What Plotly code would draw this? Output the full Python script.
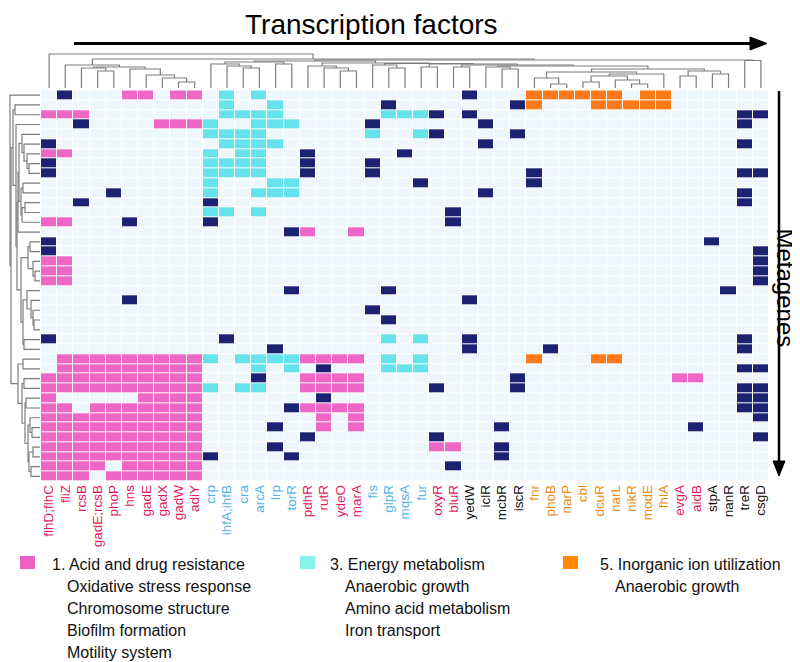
import plotly.graph_objects as go

W, H = 800, 662

# ---------------- data ----------------
tf_labels = ["flhD;flhC", "fliZ", "rcsB", "gadE;rcsB", "phoP", "hns", "gadE", "gadX", "gadW", "adiY",
             "crp", "ihfA;ihfB", "cra", "arcA", "lrp", "torR", "pdhR", "rutR", "ydeO", "marA",
             "fis", "glpR", "mqsA", "fur", "oxyR", "bluR", "yedW", "iclR", "mcbR", "iscR",
             "fnr", "phoB", "narP", "cbl", "dcuR", "narL", "nikR", "modE", "fhlA", "evgA",
             "aidB", "stpA", "nanR", "treR", "csgD"]
# functional category of each TF (1 acid/drug, 3 energy, 5 inorganic ion, 0 other)
tf_group = [1] * 10 + [3] * 6 + [1] * 4 + [3] * 4 + [1] * 2 + [0] * 4 + [5] * 9 + [1] * 2 + [0] * 4

# metagene x TF membership: . none, p cat.1, c cat.3, o cat.5, n other
metagene_rows = [
    ".n... pp.pp .c.c. ..... ..... .n... ooooo o.oo. .....",
    "..... ..... .c..c ..... .n... ....n o...o oooo. .....",
    "ppp.. ..... .cccc ..... .cccn .n... ..... ..... ...nn",
    "..n.. ..ppp c..cc c.... n.... ..n.. ..... ..... ...n.",
    "..... ..... cccc. ..... c..cn ....n ..... ..... .....",
    "n.... ..... .cccc ..... ..... ..n.. ..... ..... ...n.",
    "pp... ..... c.cc. .n... ..n.. ..... ..... ..... .....",
    "n.... ..... cccc. .n... n.... ..... ..... ..... .....",
    "n.... ..... cccc. .n... n.... ..... n.... ..... ...nn",
    "..... ..... c...c c.... ...n. ..... n.... ..... .....",
    "....n ..... c..cc c.... ..... ..n.. ..... ..... ...n.",
    "..n.. ..... n.... ..... ..... ..... ..... ..... ...n.",
    "..... ..... cc.c. ..... ..... n.... ..... ..... .....",
    "pp... n.... n.... ..... ..... n.... ..... ..... .....",
    "..... ..... ..... np..p ..... ..... ..... ..... .....",
    "n.... ..... ..... ..... ..... ..... ..... ..... .n...",
    "n.... ..... ..... ..... ..... ..... ..... ..... ....n",
    "pp... ..... ..... ..... ..... ..... ..... ..... ....n",
    "pp... ..... ..... ..... ..... ..... ..... ..... ....n",
    "pp... ..... ..... ..... ..... ..... ..... ..... ....n",
    "..... ..... ..... n.... .n... ..... ..... ..... ..n..",
    "..... n.... ..... ..... ..... .n... ..... ..... .....",
    "..... ..... ..... ..... n.... ..... ..... ..... .....",
    "..... ..... ..... ..... .n... ..... ..... ..... .....",
    "..... ..... ..... ..... ..... ..... ..... ..... .....",
    "n.... ..... .n... ..... .c.c. .n... ..... ..... ...n.",
    "..... ..... ....n ..... ..... .n... .n... ..... ...n.",
    ".pppp ppppp c.ccc cpppp .c.c. ..... o...o o.... .....",
    ".pppp ppppp ...c. c.n.. .ccc. ..... ..... ..... ...nn",
    "ppppp ppppp ...n. .pppp ..... ....n ..... ....p p....",
    "ppppp ppppp c.cc. .pppp ....n ....n ..... ..... ...nn",
    "p.... .pppp ..... ..n.. ..... ..... ..... ..... ...nn",
    "pp.pp ppppp ..... npppp ..... ..... ..... ..... ...nn",
    "ppppp ppppp ..... ..p.p ..... ..... ..... ..... ....n",
    "ppppp ppppp ....n ..p.p ..... ...n. ..... ..... n....",
    "ppppp ppppp ..... .n... ....n ..... ..... ..... ....n",
    "ppppp ppppp ....n ..... ....p p..n. ..... ..... .....",
    "ppppp ppppp n.... n.... ..... ...n. ..... ..... .....",
    "pppp. ppppp ..... ..... ..... n.... ..... ..... .....",
    "ppp.p ppppp ..... ..... ..... ..... ..... ..... .....",
]

# column dendrogram, node = [left, right, merge height]; leaves are TF indices
col_acid = [1, [[2, [3, 4, 17], 20], [5, [6, [7, [8, 9, 6], 10], 13], 19], 21], 23]
col_energy = [[10, [11, [12, 13, 20], 22], 24], [14, 15, 24], 26]
col_ion = [[30, [31, 32, 4], 10], [[[33, 34, 6], [35, [36, 37, 4], 8], 12], 38, 14], 16]
col_misc = [[39, 40, 12], [41, 42, 14], 17]
col_n5 = [[27, [28, 29, 19], 21], [col_ion, col_misc, 19], 22]
col_n4 = [[25, 26, 21], col_n5, 23]
col_n3 = [[23, 24, 21], col_n4, 24]
col_n2 = [[20, [21, 22, 20], 23], col_n3, 24.5]
col_n1 = [[16, [17, [18, 19, 17], 20], 22], col_n2, 25]
col_mid = [col_energy, col_n1, 27]
col_right = [col_mid, [43, 44, 27.5], 28]
col_tree = [0, [col_acid, col_right, 29], 34]

# row dendrogram; leaves are metagene indices
row_a = [[4, [5, [6, [7, 8, 11], 13], 16], 18], [[9, 10, 17], [[11, 12, 15], 13, 18], 19], 21]
row_b = [[15, 16, 10], [17, [18, 19, 5], 7], 12]
row_c = [row_b, [[20, [21, [22, [23, 24, 6], 7], 9], 13], [25, 26, 16], 17], 19]
row_top = [[1, 2, 25], [3, [[row_a, 14, 22], row_c, 23], 24], 27]
row_d = [[33, [34, 35, 8], 10], [[36, 37, 7], [38, 39, 9], 11], 12]
row_bottom = [[27, 28, 17], [[29, 30, 16], [[31, 32, 14], row_d, 15], 18], 22]
row_tree = [0, [row_top, row_bottom, 29], 30]

legend_groups = [
    ("1. Acid and drug resistance", ["Oxidative stress response", "Chromosome structure",
                                     "Biofilm formation", "Motility system"]),
    ("3. Energy metabolism", ["Anaerobic growth", "Amino acid metabolism", "Iron transport"]),
    ("5. Inorganic ion utilization", ["Anaerobic growth"]),
]

# ---------------- style ----------------
FONT = "Liberation Sans, Arial, sans-serif"
BG = "#EEF6FE"
PINK = "#EE66C6"
CYAN = "#66E2EC"
ORANGE = "#FF7A16"
NAVY = "#1C2272"
LEG_COLORS = ["#EC5FC3", "#86F3EA", "#FF8A00"]
LABEL_COLORS = {1: "#E5195A", 3: "#4FB3E8", 5: "#EE8A0C", 0: "#111111"}
DENDRO = "#7d7d7d"

GX0, GX1 = 33, 761          # heatmap pixel extent
GY0, GY1 = 82.3, 473.3


def px(x):
    return x / W


def py(y):
    return 1 - y / H


code = {".": 0, "p": 1, "c": 2, "o": 3, "n": 4}
z = [[code[ch] for ch in row.replace(" ", "")] for row in metagene_rows]
n_rows, n_cols = len(z), len(tf_labels)

colorscale = [[0, BG], [0.125, BG], [0.125, PINK], [0.375, PINK], [0.375, CYAN], [0.625, CYAN],
              [0.625, ORANGE], [0.875, ORANGE], [0.875, NAVY], [1, NAVY]]

fig = go.Figure()
fig.add_trace(go.Heatmap(z=z, x=list(range(n_cols)), y=list(range(n_rows)), colorscale=colorscale,
                         zmin=0, zmax=4, showscale=False, xgap=1, ygap=1, hoverinfo="skip"))


def dendro_segments(node, out):
    if not isinstance(node, list):
        return float(node), 0.0
    lp, lh = dendro_segments(node[0], out)
    rp, rh = dendro_segments(node[1], out)
    h = node[2]
    out.append(((lp, lh), (lp, h), (rp, h), (rp, rh)))
    return (lp + rp) / 2, h


segs = []
dendro_segments(col_tree, segs)
xs, ys = [], []
for s in segs:
    for p in s:
        xs.append(p[0]); ys.append(p[1])
    xs.append(None); ys.append(None)
fig.add_trace(go.Scatter(x=xs, y=ys, mode="lines", line=dict(color=DENDRO, width=1.2),
                         xaxis="x2", yaxis="y2", hoverinfo="skip", showlegend=False))

segs = []
dendro_segments(row_tree, segs)
xs, ys = [], []
for s in segs:
    for p in s:
        xs.append(p[1]); ys.append(p[0])
    xs.append(None); ys.append(None)
fig.add_trace(go.Scatter(x=xs, y=ys, mode="lines", line=dict(color=DENDRO, width=1.2),
                         xaxis="x3", yaxis="y3", hoverinfo="skip", showlegend=False))

ticktext = [f"<span style='color:{LABEL_COLORS[g]}'>{lab}</span>" for lab, g in zip(tf_labels, tf_group)]

hidden = dict(visible=False, showgrid=False, zeroline=False)
fig.update_layout(
    width=W, height=H, margin=dict(l=0, r=0, t=0, b=0),
    paper_bgcolor="white", plot_bgcolor="white", showlegend=False,
    font=dict(family=FONT, color="#111"),
    xaxis=dict(domain=[px(GX0), px(GX1)], range=[-0.5, n_cols - 0.5], tickmode="array",
               tickvals=list(range(n_cols)), ticktext=ticktext, tickangle=-90,
               tickfont=dict(family=FONT, size=13.5), showgrid=False, zeroline=False,
               showline=False, ticks="", anchor="y", fixedrange=True),
    yaxis=dict(domain=[py(GY1), py(GY0)], range=[n_rows - 0.5, -0.5], showticklabels=False,
               showgrid=False, zeroline=False, ticks="", anchor="x", fixedrange=True),
    xaxis2=dict(domain=[px(GX0), px(GX1)], range=[-0.5, n_cols - 0.5], anchor="y2", **hidden),
    yaxis2=dict(domain=[py(80), py(44)], range=[0, 36], anchor="x2", **hidden),
    xaxis3=dict(domain=[px(1), px(32)], range=[31, 0], anchor="y3", **hidden),
    yaxis3=dict(domain=[py(GY1), py(GY0)], range=[n_rows - 0.5, -0.5], anchor="x3", **hidden),
)

shapes = []
# horizontal arrow
ARR_Y = 35.5
shapes.append(dict(type="line", xref="paper", yref="paper", x0=px(66), y0=py(ARR_Y), x1=px(746), y1=py(ARR_Y),
                   line=dict(color="black", width=2.8)))
shapes.append(dict(type="path", xref="paper", yref="paper",
                   path=f"M {px(759)},{py(ARR_Y)} L {px(742)},{py(ARR_Y - 6.5)} L {px(742)},{py(ARR_Y + 6.5)} Z",
                   fillcolor="black", line=dict(color="black", width=1)))
# vertical arrow
shapes.append(dict(type="line", xref="paper", yref="paper", x0=px(771), y0=py(83), x1=px(771), y1=py(456),
                   line=dict(color="black", width=2.5)))
shapes.append(dict(type="path", xref="paper", yref="paper",
                   path=f"M {px(771)},{py(468)} L {px(765)},{py(453)} L {px(777)},{py(453)} Z",
                   fillcolor="black", line=dict(color="black", width=1)))

annotations = [
    dict(text="Transcription factors", x=px(363.5), y=py(16), xref="paper", yref="paper",
         showarrow=False, font=dict(family=FONT, size=28, color="black"), xanchor="center", yanchor="middle"),
    dict(text="Metagenes", x=px(777.5), y=py(280), xref="paper", yref="paper", textangle=90,
         showarrow=False, font=dict(family=FONT, size=24, color="black"), xanchor="center", yanchor="middle"),
]

leg_sq_x = [12, 292, 555]
leg_txt_x = [42, 320, 590]
leg_y0, leg_dy = 556, 22
for i, (head, subs) in enumerate(legend_groups):
    shapes.append(dict(type="rect", xref="paper", yref="paper", x0=px(leg_sq_x[i]), x1=px(leg_sq_x[i] + 15),
                       y0=py(leg_y0 - 8), y1=py(leg_y0 + 5), fillcolor=LEG_COLORS[i], line=dict(width=0)))
    annotations.append(dict(text=head, x=px(leg_txt_x[i]), y=py(leg_y0), xref="paper", yref="paper",
                            showarrow=False, xanchor="left", yanchor="middle",
                            font=dict(family=FONT, size=16, color="#111")))
    for j, s in enumerate(subs):
        annotations.append(dict(text=s, x=px(leg_txt_x[i] + 15), y=py(leg_y0 + leg_dy * (j + 1)),
                                xref="paper", yref="paper", showarrow=False, xanchor="left",
                                yanchor="middle", font=dict(family=FONT, size=16, color="#111")))

fig.update_layout(shapes=shapes, annotations=annotations)
fig.write_html("out.html")
